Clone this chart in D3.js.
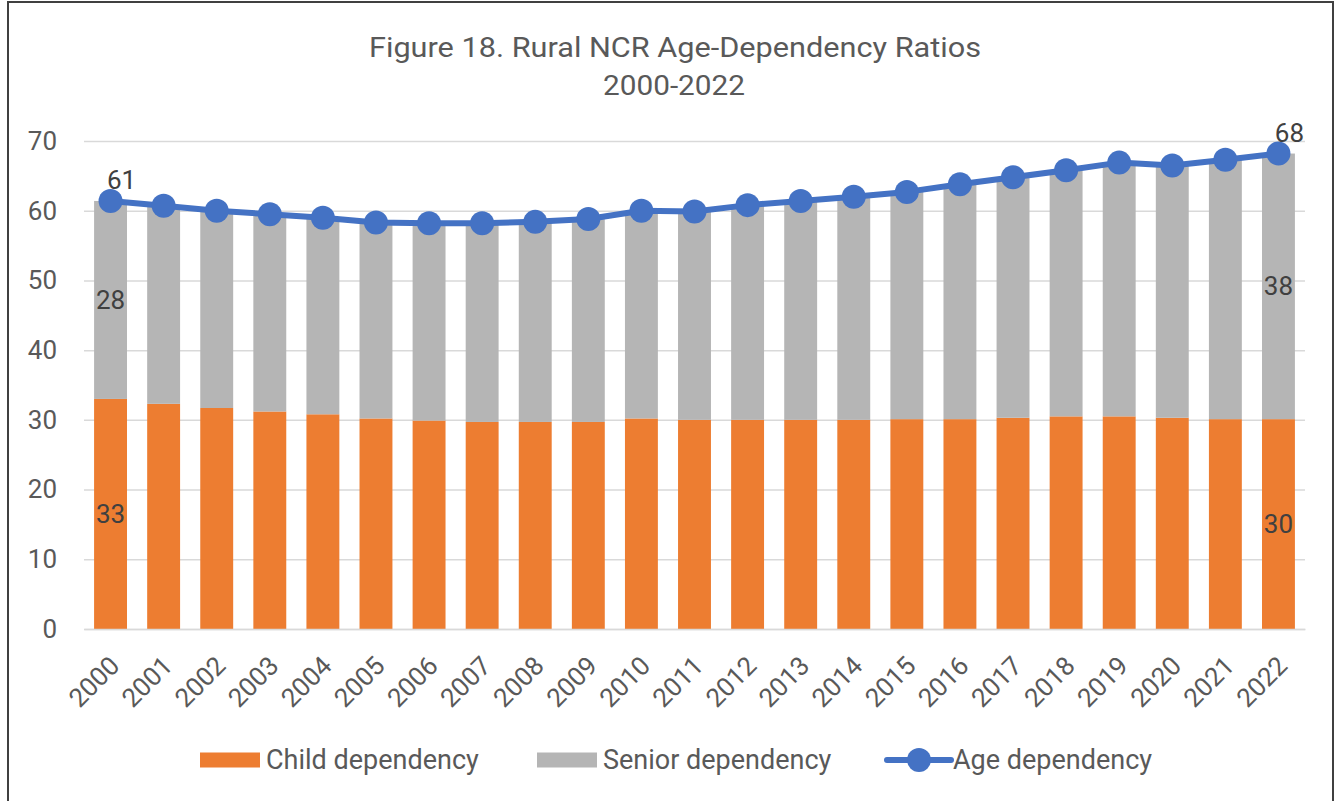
<!DOCTYPE html>
<html>
<head>
<meta charset="utf-8">
<script src="https://cdn.jsdelivr.net/npm/d3@7"></script>
<style>
  body { margin: 0; background: #fff; }
  svg { font-family: Roboto, "Noto Sans", sans-serif; }
</style>
</head>
<body>
<div id="vis"></div>
<script>
// chart data
const years = ["2000","2001","2002","2003","2004","2005","2006","2007","2008","2009","2010","2011",
               "2012","2013","2014","2015","2016","2017","2018","2019","2020","2021","2022"];
const childDep = [33.0, 32.3, 31.7, 31.2, 30.8, 30.2, 29.9, 29.7, 29.7, 29.7, 30.2, 30.0,
                  30.0, 30.0, 30.0, 30.1, 30.1, 30.3, 30.5, 30.5, 30.3, 30.1, 30.1];
const seniorDep = [28.4, 28.4, 28.3, 28.3, 28.2, 28.1, 28.3, 28.5, 28.7, 29.1, 29.8, 29.9,
                   30.8, 31.4, 32.0, 32.6, 33.7, 34.5, 35.3, 36.4, 36.2, 37.2, 38.1];
const ageDep = [61.4, 60.7, 60.0, 59.5, 59.0, 58.3, 58.2, 58.2, 58.4, 58.8, 60.0, 59.9,
                60.8, 61.4, 62.0, 62.7, 63.8, 64.8, 65.8, 66.9, 66.5, 67.3, 68.2];
const yTicks = [0, 10, 20, 30, 40, 50, 60, 70];
const seriesNames = ["Child dependency", "Senior dependency", "Age dependency"];

// constants
const FRAME_WIDTH = 1340;
const FRAME_HEIGHT = 801;
const MARGINS = {left: 84, right: 35, top: 141, bottom: 172};
const VIS_WIDTH = FRAME_WIDTH - MARGINS.left - MARGINS.right;
const VIS_HEIGHT = FRAME_HEIGHT - MARGINS.top - MARGINS.bottom;

const ORANGE = "#ED7D31", GRAY = "#B5B5B5", BLUE = "#4472C4", TEXT = "#595959", LABEL = "#404040";

const FRAME = d3.select("#vis")
  .append("svg")
    .attr("width", FRAME_WIDTH)
    .attr("height", FRAME_HEIGHT);

// outer border
FRAME.append("rect")
  .attr("x", 8).attr("y", 2)
  .attr("width", 1325).attr("height", 820)
  .attr("fill", "none")
  .attr("stroke", "#404040")
  .attr("stroke-width", 2);

// title (reference text is a little wider than plain Roboto)
FRAME.append("text")
  .attr("x", 675).attr("y", 57)
  .attr("text-anchor", "middle")
  .attr("font-size", "27px")
  .attr("fill", TEXT)
  .attr("textLength", 612)
  .attr("lengthAdjust", "spacingAndGlyphs")
  .text("Figure 18. Rural NCR Age-Dependency Ratios");
FRAME.append("text")
  .attr("x", 674).attr("y", 95)
  .attr("text-anchor", "middle")
  .attr("font-size", "27px")
  .attr("fill", TEXT)
  .attr("textLength", 142)
  .attr("lengthAdjust", "spacingAndGlyphs")
  .text("2000-2022");

// scales
const X_SCALE = d3.scaleBand()
  .domain(years)
  .range([0, VIS_WIDTH])
  .paddingInner(0.38)
  .paddingOuter(0.19);

const Y_SCALE = d3.scaleLinear()
  .domain([0, 70])
  .range([VIS_HEIGHT, 0]);

const g = FRAME.append("g")
  .attr("transform", "translate(" + MARGINS.left + "," + MARGINS.top + ")");

// gridlines + y labels
const yAxis = g.append("g")
  .call(d3.axisLeft(Y_SCALE).tickValues(yTicks).tickSize(-VIS_WIDTH).tickPadding(27));
yAxis.select(".domain").remove();
yAxis.selectAll(".tick line").attr("stroke", "#d9d9d9").attr("stroke-width", 1.5);
yAxis.selectAll(".tick text")
  .attr("font-size", "26px")
  .attr("fill", TEXT)
  .attr("font-family", "Roboto, sans-serif");

// stacked bars
const stackData = years.map((y, i) => ({year: y, child: childDep[i], senior: seniorDep[i]}));
const stack = d3.stack().keys(["child", "senior"])(stackData);
const colors = {child: ORANGE, senior: GRAY};

g.selectAll(".layer")
  .data(stack)
  .enter()
  .append("g")
    .attr("fill", d => colors[d.key])
  .selectAll("rect")
  .data(d => d)
  .enter()
  .append("rect")
    .attr("x", d => X_SCALE(d.data.year))
    .attr("y", d => Y_SCALE(d[1]))
    .attr("width", X_SCALE.bandwidth())
    .attr("height", d => Y_SCALE(d[0]) - Y_SCALE(d[1]));

// x axis
const xAxis = g.append("g")
  .attr("transform", "translate(0," + VIS_HEIGHT + ")")
  .call(d3.axisBottom(X_SCALE).tickSize(0).tickPadding(0));
xAxis.select(".domain").attr("stroke", "#d9d9d9").attr("stroke-width", 1.5);
xAxis.selectAll(".tick text")
  .attr("font-size", "26px")
  .attr("fill", TEXT)
  .attr("font-family", "Roboto, sans-serif")
  .attr("text-anchor", "end")
  .attr("dy", "0.35em")
  .attr("transform", "translate(4,32) rotate(-45)");

// line
const cx = i => X_SCALE(years[i]) + X_SCALE.bandwidth() / 2;
const line = d3.line()
  .x((d, i) => cx(i))
  .y(d => Y_SCALE(d));

g.append("path")
  .datum(ageDep)
  .attr("fill", "none")
  .attr("stroke", BLUE)
  .attr("stroke-width", 6)
  .attr("stroke-linejoin", "round")
  .attr("d", line);

g.selectAll(".dot")
  .data(ageDep)
  .enter()
  .append("circle")
    .attr("cx", (d, i) => cx(i))
    .attr("cy", d => Y_SCALE(d))
    .attr("r", 12)
    .attr("fill", BLUE);

// data labels (first and last year)
const labelIdx = [0, years.length - 1];
labelIdx.forEach(i => {
  g.append("text")
    .attr("x", cx(i) + 11)
    .attr("y", Y_SCALE(ageDep[i]) - 12)
    .attr("text-anchor", "middle")
    .attr("font-size", "26px")
    .attr("fill", LABEL)
    .text(Math.round(ageDep[i]));
  g.append("text")
    .attr("x", cx(i))
    .attr("y", Y_SCALE(childDep[i] + seniorDep[i] / 2))
    .attr("dy", "0.35em")
    .attr("text-anchor", "middle")
    .attr("font-size", "26px")
    .attr("fill", LABEL)
    .text(Math.round(seniorDep[i]));
  g.append("text")
    .attr("x", cx(i))
    .attr("y", Y_SCALE(childDep[i] / 2))
    .attr("dy", "0.35em")
    .attr("text-anchor", "middle")
    .attr("font-size", "26px")
    .attr("fill", LABEL)
    .text(Math.round(childDep[i]));
});

// legend
const legend = FRAME.append("g").attr("transform", "translate(0,760)");
const legendX = [200, 537, 887];
legend.append("rect").attr("x", legendX[0]).attr("y", -7.5).attr("width", 60).attr("height", 15).attr("fill", ORANGE);
legend.append("rect").attr("x", legendX[1]).attr("y", -7.5).attr("width", 60).attr("height", 15).attr("fill", GRAY);
legend.append("line").attr("x1", legendX[2]).attr("x2", legendX[2] + 64).attr("y1", 0).attr("y2", 0)
  .attr("stroke", BLUE).attr("stroke-width", 6).attr("stroke-linecap", "round");
legend.append("circle").attr("cx", legendX[2] + 32).attr("cy", 0).attr("r", 12).attr("fill", BLUE);
seriesNames.forEach((name, i) => {
  legend.append("text")
    .attr("x", legendX[i] + 66)
    .attr("y", 0)
    .attr("dy", "0.35em")
    .attr("font-size", "27px")
    .attr("fill", TEXT)
    .text(name);
});
</script>
</body>
</html>
